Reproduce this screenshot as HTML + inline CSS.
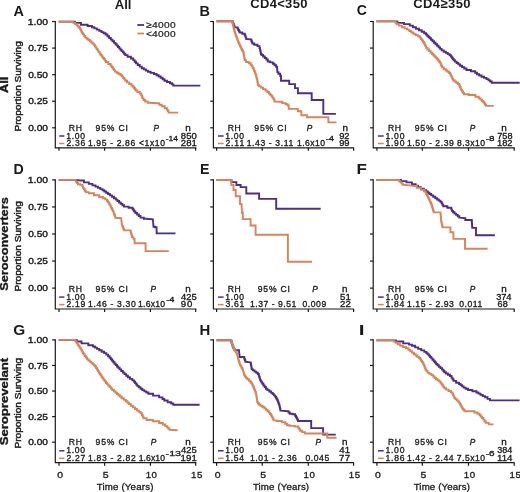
<!DOCTYPE html>
<html><head><meta charset="utf-8"><style>
html,body{margin:0;padding:0;background:#fff;width:520px;height:492px;overflow:hidden}
svg{display:block}
text{font-family:"Liberation Sans", sans-serif}
</style></head><body>
<svg width="520" height="492" viewBox="0 0 520 492" style="filter:blur(0.3px)">
<rect width="520" height="492" fill="#fff"/>
<path d="M55.30,20.90 V147.80 H196.30" fill="none" stroke="#1a1a1a" stroke-width="1.2"/>
<line x1="52.10" y1="21.50" x2="55.30" y2="21.50" stroke="#1a1a1a" stroke-width="1.2"/>
<line x1="52.10" y1="48.08" x2="55.30" y2="48.08" stroke="#1a1a1a" stroke-width="1.2"/>
<line x1="52.10" y1="74.65" x2="55.30" y2="74.65" stroke="#1a1a1a" stroke-width="1.2"/>
<line x1="52.10" y1="101.22" x2="55.30" y2="101.22" stroke="#1a1a1a" stroke-width="1.2"/>
<line x1="52.10" y1="127.80" x2="55.30" y2="127.80" stroke="#1a1a1a" stroke-width="1.2"/>
<line x1="59.00" y1="147.80" x2="59.00" y2="150.80" stroke="#1a1a1a" stroke-width="1.2"/>
<line x1="104.60" y1="147.80" x2="104.60" y2="150.80" stroke="#1a1a1a" stroke-width="1.2"/>
<line x1="150.40" y1="147.80" x2="150.40" y2="150.80" stroke="#1a1a1a" stroke-width="1.2"/>
<line x1="195.70" y1="147.80" x2="195.70" y2="150.80" stroke="#1a1a1a" stroke-width="1.2"/>
<path d="M213.40,20.90 V147.80 H353.90" fill="none" stroke="#1a1a1a" stroke-width="1.2"/>
<line x1="210.20" y1="21.50" x2="213.40" y2="21.50" stroke="#1a1a1a" stroke-width="1.2"/>
<line x1="210.20" y1="48.08" x2="213.40" y2="48.08" stroke="#1a1a1a" stroke-width="1.2"/>
<line x1="210.20" y1="74.65" x2="213.40" y2="74.65" stroke="#1a1a1a" stroke-width="1.2"/>
<line x1="210.20" y1="101.22" x2="213.40" y2="101.22" stroke="#1a1a1a" stroke-width="1.2"/>
<line x1="210.20" y1="127.80" x2="213.40" y2="127.80" stroke="#1a1a1a" stroke-width="1.2"/>
<line x1="216.60" y1="147.80" x2="216.60" y2="150.80" stroke="#1a1a1a" stroke-width="1.2"/>
<line x1="262.20" y1="147.80" x2="262.20" y2="150.80" stroke="#1a1a1a" stroke-width="1.2"/>
<line x1="308.30" y1="147.80" x2="308.30" y2="150.80" stroke="#1a1a1a" stroke-width="1.2"/>
<line x1="353.60" y1="147.80" x2="353.60" y2="150.80" stroke="#1a1a1a" stroke-width="1.2"/>
<path d="M373.20,20.90 V147.80 H514.60" fill="none" stroke="#1a1a1a" stroke-width="1.2"/>
<line x1="370.00" y1="21.50" x2="373.20" y2="21.50" stroke="#1a1a1a" stroke-width="1.2"/>
<line x1="370.00" y1="48.08" x2="373.20" y2="48.08" stroke="#1a1a1a" stroke-width="1.2"/>
<line x1="370.00" y1="74.65" x2="373.20" y2="74.65" stroke="#1a1a1a" stroke-width="1.2"/>
<line x1="370.00" y1="101.22" x2="373.20" y2="101.22" stroke="#1a1a1a" stroke-width="1.2"/>
<line x1="370.00" y1="127.80" x2="373.20" y2="127.80" stroke="#1a1a1a" stroke-width="1.2"/>
<line x1="376.90" y1="147.80" x2="376.90" y2="150.80" stroke="#1a1a1a" stroke-width="1.2"/>
<line x1="422.30" y1="147.80" x2="422.30" y2="150.80" stroke="#1a1a1a" stroke-width="1.2"/>
<line x1="468.50" y1="147.80" x2="468.50" y2="150.80" stroke="#1a1a1a" stroke-width="1.2"/>
<line x1="514.20" y1="147.80" x2="514.20" y2="150.80" stroke="#1a1a1a" stroke-width="1.2"/>
<path d="M55.30,179.30 V309.00 H196.30" fill="none" stroke="#1a1a1a" stroke-width="1.2"/>
<line x1="52.10" y1="179.90" x2="55.30" y2="179.90" stroke="#1a1a1a" stroke-width="1.2"/>
<line x1="52.10" y1="206.95" x2="55.30" y2="206.95" stroke="#1a1a1a" stroke-width="1.2"/>
<line x1="52.10" y1="234.00" x2="55.30" y2="234.00" stroke="#1a1a1a" stroke-width="1.2"/>
<line x1="52.10" y1="261.05" x2="55.30" y2="261.05" stroke="#1a1a1a" stroke-width="1.2"/>
<line x1="52.10" y1="288.10" x2="55.30" y2="288.10" stroke="#1a1a1a" stroke-width="1.2"/>
<line x1="59.00" y1="309.00" x2="59.00" y2="312.00" stroke="#1a1a1a" stroke-width="1.2"/>
<line x1="104.60" y1="309.00" x2="104.60" y2="312.00" stroke="#1a1a1a" stroke-width="1.2"/>
<line x1="150.40" y1="309.00" x2="150.40" y2="312.00" stroke="#1a1a1a" stroke-width="1.2"/>
<line x1="195.70" y1="309.00" x2="195.70" y2="312.00" stroke="#1a1a1a" stroke-width="1.2"/>
<path d="M213.40,179.30 V309.00 H353.90" fill="none" stroke="#1a1a1a" stroke-width="1.2"/>
<line x1="210.20" y1="179.90" x2="213.40" y2="179.90" stroke="#1a1a1a" stroke-width="1.2"/>
<line x1="210.20" y1="206.95" x2="213.40" y2="206.95" stroke="#1a1a1a" stroke-width="1.2"/>
<line x1="210.20" y1="234.00" x2="213.40" y2="234.00" stroke="#1a1a1a" stroke-width="1.2"/>
<line x1="210.20" y1="261.05" x2="213.40" y2="261.05" stroke="#1a1a1a" stroke-width="1.2"/>
<line x1="210.20" y1="288.10" x2="213.40" y2="288.10" stroke="#1a1a1a" stroke-width="1.2"/>
<line x1="216.60" y1="309.00" x2="216.60" y2="312.00" stroke="#1a1a1a" stroke-width="1.2"/>
<line x1="262.20" y1="309.00" x2="262.20" y2="312.00" stroke="#1a1a1a" stroke-width="1.2"/>
<line x1="308.30" y1="309.00" x2="308.30" y2="312.00" stroke="#1a1a1a" stroke-width="1.2"/>
<line x1="353.60" y1="309.00" x2="353.60" y2="312.00" stroke="#1a1a1a" stroke-width="1.2"/>
<path d="M373.20,179.30 V309.00 H514.60" fill="none" stroke="#1a1a1a" stroke-width="1.2"/>
<line x1="370.00" y1="179.90" x2="373.20" y2="179.90" stroke="#1a1a1a" stroke-width="1.2"/>
<line x1="370.00" y1="206.95" x2="373.20" y2="206.95" stroke="#1a1a1a" stroke-width="1.2"/>
<line x1="370.00" y1="234.00" x2="373.20" y2="234.00" stroke="#1a1a1a" stroke-width="1.2"/>
<line x1="370.00" y1="261.05" x2="373.20" y2="261.05" stroke="#1a1a1a" stroke-width="1.2"/>
<line x1="370.00" y1="288.10" x2="373.20" y2="288.10" stroke="#1a1a1a" stroke-width="1.2"/>
<line x1="376.90" y1="309.00" x2="376.90" y2="312.00" stroke="#1a1a1a" stroke-width="1.2"/>
<line x1="422.30" y1="309.00" x2="422.30" y2="312.00" stroke="#1a1a1a" stroke-width="1.2"/>
<line x1="468.50" y1="309.00" x2="468.50" y2="312.00" stroke="#1a1a1a" stroke-width="1.2"/>
<line x1="514.20" y1="309.00" x2="514.20" y2="312.00" stroke="#1a1a1a" stroke-width="1.2"/>
<path d="M55.30,339.30 V462.70 H196.30" fill="none" stroke="#1a1a1a" stroke-width="1.2"/>
<line x1="52.10" y1="339.90" x2="55.30" y2="339.90" stroke="#1a1a1a" stroke-width="1.2"/>
<line x1="52.10" y1="365.47" x2="55.30" y2="365.47" stroke="#1a1a1a" stroke-width="1.2"/>
<line x1="52.10" y1="391.05" x2="55.30" y2="391.05" stroke="#1a1a1a" stroke-width="1.2"/>
<line x1="52.10" y1="416.62" x2="55.30" y2="416.62" stroke="#1a1a1a" stroke-width="1.2"/>
<line x1="52.10" y1="442.20" x2="55.30" y2="442.20" stroke="#1a1a1a" stroke-width="1.2"/>
<line x1="59.00" y1="462.70" x2="59.00" y2="465.70" stroke="#1a1a1a" stroke-width="1.2"/>
<line x1="104.60" y1="462.70" x2="104.60" y2="465.70" stroke="#1a1a1a" stroke-width="1.2"/>
<line x1="150.40" y1="462.70" x2="150.40" y2="465.70" stroke="#1a1a1a" stroke-width="1.2"/>
<line x1="195.70" y1="462.70" x2="195.70" y2="465.70" stroke="#1a1a1a" stroke-width="1.2"/>
<path d="M213.40,339.30 V462.70 H353.90" fill="none" stroke="#1a1a1a" stroke-width="1.2"/>
<line x1="210.20" y1="339.90" x2="213.40" y2="339.90" stroke="#1a1a1a" stroke-width="1.2"/>
<line x1="210.20" y1="365.47" x2="213.40" y2="365.47" stroke="#1a1a1a" stroke-width="1.2"/>
<line x1="210.20" y1="391.05" x2="213.40" y2="391.05" stroke="#1a1a1a" stroke-width="1.2"/>
<line x1="210.20" y1="416.62" x2="213.40" y2="416.62" stroke="#1a1a1a" stroke-width="1.2"/>
<line x1="210.20" y1="442.20" x2="213.40" y2="442.20" stroke="#1a1a1a" stroke-width="1.2"/>
<line x1="216.60" y1="462.70" x2="216.60" y2="465.70" stroke="#1a1a1a" stroke-width="1.2"/>
<line x1="262.20" y1="462.70" x2="262.20" y2="465.70" stroke="#1a1a1a" stroke-width="1.2"/>
<line x1="308.30" y1="462.70" x2="308.30" y2="465.70" stroke="#1a1a1a" stroke-width="1.2"/>
<line x1="353.60" y1="462.70" x2="353.60" y2="465.70" stroke="#1a1a1a" stroke-width="1.2"/>
<path d="M373.20,339.30 V462.70 H514.60" fill="none" stroke="#1a1a1a" stroke-width="1.2"/>
<line x1="370.00" y1="339.90" x2="373.20" y2="339.90" stroke="#1a1a1a" stroke-width="1.2"/>
<line x1="370.00" y1="365.47" x2="373.20" y2="365.47" stroke="#1a1a1a" stroke-width="1.2"/>
<line x1="370.00" y1="391.05" x2="373.20" y2="391.05" stroke="#1a1a1a" stroke-width="1.2"/>
<line x1="370.00" y1="416.62" x2="373.20" y2="416.62" stroke="#1a1a1a" stroke-width="1.2"/>
<line x1="370.00" y1="442.20" x2="373.20" y2="442.20" stroke="#1a1a1a" stroke-width="1.2"/>
<line x1="376.90" y1="462.70" x2="376.90" y2="465.70" stroke="#1a1a1a" stroke-width="1.2"/>
<line x1="422.30" y1="462.70" x2="422.30" y2="465.70" stroke="#1a1a1a" stroke-width="1.2"/>
<line x1="468.50" y1="462.70" x2="468.50" y2="465.70" stroke="#1a1a1a" stroke-width="1.2"/>
<line x1="514.20" y1="462.70" x2="514.20" y2="465.70" stroke="#1a1a1a" stroke-width="1.2"/>
<text x="114.67" y="8.70" font-size="13" font-weight="bold" font-style="normal" textLength="16.86" lengthAdjust="spacingAndGlyphs" fill="#1a1a1a" stroke="#1a1a1a" stroke-width="0" >All</text>
<text transform="translate(250.80,8.30) scale(1.0,1)" x="-0.53" y="0" font-size="13" font-weight="bold" font-style="normal" textLength="57.17" lengthAdjust="spacing" fill="#1a1a1a" stroke="#1a1a1a" stroke-width="0" >CD4&lt;350</text>
<text transform="translate(413.80,8.30) scale(1.0,1)" x="-0.53" y="0" font-size="13" font-weight="bold" font-style="normal" textLength="57.27" lengthAdjust="spacing" fill="#1a1a1a" stroke="#1a1a1a" stroke-width="0" >CD4≥350</text>
<text x="13.44" y="15.60" font-size="14" font-weight="bold" font-style="normal" textLength="10.44" lengthAdjust="spacingAndGlyphs" fill="#1a1a1a" stroke="#1a1a1a" stroke-width="0" >A</text>
<text x="199.43" y="15.60" font-size="14" font-weight="bold" font-style="normal" textLength="10.42" lengthAdjust="spacingAndGlyphs" fill="#1a1a1a" stroke="#1a1a1a" stroke-width="0" >B</text>
<text x="356.72" y="15.40" font-size="14" font-weight="bold" font-style="normal" textLength="10.16" lengthAdjust="spacingAndGlyphs" fill="#1a1a1a" stroke="#1a1a1a" stroke-width="0" >C</text>
<text x="13.45" y="174.00" font-size="14" font-weight="bold" font-style="normal" textLength="10.24" lengthAdjust="spacingAndGlyphs" fill="#1a1a1a" stroke="#1a1a1a" stroke-width="0" >D</text>
<text x="200.05" y="174.40" font-size="14" font-weight="bold" font-style="normal" textLength="9.51" lengthAdjust="spacingAndGlyphs" fill="#1a1a1a" stroke="#1a1a1a" stroke-width="0" >E</text>
<text x="356.57" y="174.40" font-size="14" font-weight="bold" font-style="normal" textLength="10.35" lengthAdjust="spacingAndGlyphs" fill="#1a1a1a" stroke="#1a1a1a" stroke-width="0" >F</text>
<text x="13.17" y="335.30" font-size="14" font-weight="bold" font-style="normal" textLength="11.99" lengthAdjust="spacingAndGlyphs" fill="#1a1a1a" stroke="#1a1a1a" stroke-width="0" >G</text>
<text x="199.60" y="335.40" font-size="14" font-weight="bold" font-style="normal" textLength="10.81" lengthAdjust="spacingAndGlyphs" fill="#1a1a1a" stroke="#1a1a1a" stroke-width="0" >H</text>
<text x="358.81" y="335.40" font-size="14" font-weight="bold" font-style="normal" textLength="5.79" lengthAdjust="spacingAndGlyphs" fill="#1a1a1a" stroke="#1a1a1a" stroke-width="0" >I</text>
<text transform="translate(8.30,92.70) rotate(-90)" x="-0.32" y="0" font-size="10" font-weight="bold" textLength="16.43" lengthAdjust="spacingAndGlyphs" fill="#1a1a1a" stroke="#1a1a1a" stroke-width="0.35">All</text>
<text transform="translate(8.30,290.40) rotate(-90)" x="-0.37" y="0" font-size="10.3" font-weight="bold" textLength="93.49" lengthAdjust="spacingAndGlyphs" fill="#1a1a1a" stroke="#1a1a1a" stroke-width="0.35">Seroconverters</text>
<text transform="translate(8.30,445.00) rotate(-90)" x="-0.38" y="0" font-size="10.3" font-weight="bold" textLength="87.64" lengthAdjust="spacingAndGlyphs" fill="#1a1a1a" stroke="#1a1a1a" stroke-width="0.35">Seroprevelant</text>
<text transform="translate(20.80,130.60) rotate(-90)" x="-0.82" y="0" font-size="8.4" font-weight="normal" textLength="90.17" lengthAdjust="spacingAndGlyphs" fill="#1a1a1a" stroke="#1a1a1a" stroke-width="0.4">Proportion Surviving</text>
<text transform="translate(20.80,290.60) rotate(-90)" x="-0.82" y="0" font-size="8.4" font-weight="normal" textLength="90.37" lengthAdjust="spacingAndGlyphs" fill="#1a1a1a" stroke="#1a1a1a" stroke-width="0.4">Proportion Surviving</text>
<text transform="translate(20.80,447.70) rotate(-90)" x="-0.83" y="0" font-size="8.4" font-weight="normal" textLength="90.68" lengthAdjust="spacingAndGlyphs" fill="#1a1a1a" stroke="#1a1a1a" stroke-width="0.4">Proportion Surviving</text>
<text x="27.81" y="24.70" font-size="9.6" font-weight="normal" font-style="normal" textLength="20.20" lengthAdjust="spacingAndGlyphs" fill="#1a1a1a" stroke="#1a1a1a" stroke-width="0.4" >1.00</text>
<text x="28.20" y="51.28" font-size="9.6" font-weight="normal" font-style="normal" textLength="19.83" lengthAdjust="spacingAndGlyphs" fill="#1a1a1a" stroke="#1a1a1a" stroke-width="0.4" >0.75</text>
<text x="28.20" y="77.85" font-size="9.6" font-weight="normal" font-style="normal" textLength="19.79" lengthAdjust="spacingAndGlyphs" fill="#1a1a1a" stroke="#1a1a1a" stroke-width="0.4" >0.50</text>
<text x="28.20" y="104.42" font-size="9.6" font-weight="normal" font-style="normal" textLength="19.83" lengthAdjust="spacingAndGlyphs" fill="#1a1a1a" stroke="#1a1a1a" stroke-width="0.4" >0.25</text>
<text x="28.20" y="131.00" font-size="9.6" font-weight="normal" font-style="normal" textLength="19.79" lengthAdjust="spacingAndGlyphs" fill="#1a1a1a" stroke="#1a1a1a" stroke-width="0.4" >0.00</text>
<text x="27.81" y="183.10" font-size="9.6" font-weight="normal" font-style="normal" textLength="20.20" lengthAdjust="spacingAndGlyphs" fill="#1a1a1a" stroke="#1a1a1a" stroke-width="0.4" >1.00</text>
<text x="28.20" y="210.15" font-size="9.6" font-weight="normal" font-style="normal" textLength="19.83" lengthAdjust="spacingAndGlyphs" fill="#1a1a1a" stroke="#1a1a1a" stroke-width="0.4" >0.75</text>
<text x="28.20" y="237.20" font-size="9.6" font-weight="normal" font-style="normal" textLength="19.79" lengthAdjust="spacingAndGlyphs" fill="#1a1a1a" stroke="#1a1a1a" stroke-width="0.4" >0.50</text>
<text x="28.20" y="264.25" font-size="9.6" font-weight="normal" font-style="normal" textLength="19.83" lengthAdjust="spacingAndGlyphs" fill="#1a1a1a" stroke="#1a1a1a" stroke-width="0.4" >0.25</text>
<text x="28.20" y="291.30" font-size="9.6" font-weight="normal" font-style="normal" textLength="19.79" lengthAdjust="spacingAndGlyphs" fill="#1a1a1a" stroke="#1a1a1a" stroke-width="0.4" >0.00</text>
<text x="27.81" y="343.10" font-size="9.6" font-weight="normal" font-style="normal" textLength="20.20" lengthAdjust="spacingAndGlyphs" fill="#1a1a1a" stroke="#1a1a1a" stroke-width="0.4" >1.00</text>
<text x="28.20" y="368.67" font-size="9.6" font-weight="normal" font-style="normal" textLength="19.83" lengthAdjust="spacingAndGlyphs" fill="#1a1a1a" stroke="#1a1a1a" stroke-width="0.4" >0.75</text>
<text x="28.20" y="394.25" font-size="9.6" font-weight="normal" font-style="normal" textLength="19.79" lengthAdjust="spacingAndGlyphs" fill="#1a1a1a" stroke="#1a1a1a" stroke-width="0.4" >0.50</text>
<text x="28.20" y="419.82" font-size="9.6" font-weight="normal" font-style="normal" textLength="19.83" lengthAdjust="spacingAndGlyphs" fill="#1a1a1a" stroke="#1a1a1a" stroke-width="0.4" >0.25</text>
<text x="28.20" y="445.40" font-size="9.6" font-weight="normal" font-style="normal" textLength="19.79" lengthAdjust="spacingAndGlyphs" fill="#1a1a1a" stroke="#1a1a1a" stroke-width="0.4" >0.00</text>
<text x="57.19" y="477.70" font-size="8.8" font-weight="normal" font-style="normal" textLength="5.82" lengthAdjust="spacingAndGlyphs" fill="#1a1a1a" stroke="#1a1a1a" stroke-width="0.3" >0</text>
<text x="102.78" y="477.70" font-size="8.8" font-weight="normal" font-style="normal" textLength="5.87" lengthAdjust="spacingAndGlyphs" fill="#1a1a1a" stroke="#1a1a1a" stroke-width="0.3" >5</text>
<text transform="translate(146.40,477.70) scale(1.1,1)" x="-0.67" y="0" font-size="8.8" font-weight="normal" font-style="normal" textLength="10.29" lengthAdjust="spacing" fill="#1a1a1a" stroke="#1a1a1a" stroke-width="0.3" >10</text>
<text transform="translate(191.70,477.70) scale(1.1,1)" x="-0.67" y="0" font-size="8.8" font-weight="normal" font-style="normal" textLength="10.31" lengthAdjust="spacing" fill="#1a1a1a" stroke="#1a1a1a" stroke-width="0.3" >15</text>
<text x="214.79" y="477.70" font-size="8.8" font-weight="normal" font-style="normal" textLength="5.82" lengthAdjust="spacingAndGlyphs" fill="#1a1a1a" stroke="#1a1a1a" stroke-width="0.3" >0</text>
<text x="260.38" y="477.70" font-size="8.8" font-weight="normal" font-style="normal" textLength="5.87" lengthAdjust="spacingAndGlyphs" fill="#1a1a1a" stroke="#1a1a1a" stroke-width="0.3" >5</text>
<text transform="translate(304.30,477.70) scale(1.1,1)" x="-0.67" y="0" font-size="8.8" font-weight="normal" font-style="normal" textLength="10.29" lengthAdjust="spacing" fill="#1a1a1a" stroke="#1a1a1a" stroke-width="0.3" >10</text>
<text transform="translate(349.60,477.70) scale(1.1,1)" x="-0.67" y="0" font-size="8.8" font-weight="normal" font-style="normal" textLength="10.31" lengthAdjust="spacing" fill="#1a1a1a" stroke="#1a1a1a" stroke-width="0.3" >15</text>
<text x="375.09" y="477.70" font-size="8.8" font-weight="normal" font-style="normal" textLength="5.82" lengthAdjust="spacingAndGlyphs" fill="#1a1a1a" stroke="#1a1a1a" stroke-width="0.3" >0</text>
<text x="420.48" y="477.70" font-size="8.8" font-weight="normal" font-style="normal" textLength="5.87" lengthAdjust="spacingAndGlyphs" fill="#1a1a1a" stroke="#1a1a1a" stroke-width="0.3" >5</text>
<text transform="translate(464.50,477.70) scale(1.1,1)" x="-0.67" y="0" font-size="8.8" font-weight="normal" font-style="normal" textLength="10.29" lengthAdjust="spacing" fill="#1a1a1a" stroke="#1a1a1a" stroke-width="0.3" >10</text>
<text transform="translate(510.20,477.70) scale(1.1,1)" x="-0.67" y="0" font-size="8.8" font-weight="normal" font-style="normal" textLength="10.31" lengthAdjust="spacing" fill="#1a1a1a" stroke="#1a1a1a" stroke-width="0.3" >15</text>
<text transform="translate(96.90,490.30) scale(1.1,1)" x="-0.20" y="0" font-size="8.8" font-weight="normal" font-style="normal" textLength="51.56" lengthAdjust="spacing" fill="#1a1a1a" stroke="#1a1a1a" stroke-width="0.3" >Time (Years)</text>
<text transform="translate(253.10,490.30) scale(1.1,1)" x="-0.20" y="0" font-size="8.8" font-weight="normal" font-style="normal" textLength="51.11" lengthAdjust="spacing" fill="#1a1a1a" stroke="#1a1a1a" stroke-width="0.3" >Time (Years)</text>
<text transform="translate(413.90,490.30) scale(1.1,1)" x="-0.20" y="0" font-size="8.8" font-weight="normal" font-style="normal" textLength="51.11" lengthAdjust="spacing" fill="#1a1a1a" stroke="#1a1a1a" stroke-width="0.3" >Time (Years)</text>
<polyline points="137.30,25.00 144.00,25.00" fill="none" stroke="#4e2e82" stroke-width="1.8" stroke-linejoin="miter" stroke-linecap="butt"/>
<polyline points="137.30,33.50 144.00,33.50" fill="none" stroke="#d6845a" stroke-width="1.8" stroke-linejoin="miter" stroke-linecap="butt"/>
<text transform="translate(146.40,27.70) scale(1.1,1)" x="-0.30" y="0" font-size="9.3" font-weight="normal" font-style="normal" textLength="26.93" lengthAdjust="spacing" fill="#1a1a1a" stroke="#1a1a1a" stroke-width="0.2" >≥4000</text>
<text transform="translate(146.40,36.60) scale(1.1,1)" x="-0.46" y="0" font-size="9.3" font-weight="normal" font-style="normal" textLength="27.09" lengthAdjust="spacing" fill="#1a1a1a" stroke="#1a1a1a" stroke-width="0.2" >&lt;4000</text>
<text transform="translate(69.50,130.50) scale(1.0,1)" x="-0.71" y="0" font-size="8.6" font-weight="normal" font-style="normal" textLength="13.11" lengthAdjust="spacing" fill="#1a1a1a" stroke="#1a1a1a" stroke-width="0.32" >RH</text>
<text transform="translate(96.00,130.50) scale(1.0,1)" x="-0.40" y="0" font-size="8.6" font-weight="normal" font-style="normal" textLength="32.30" lengthAdjust="spacing" fill="#1a1a1a" stroke="#1a1a1a" stroke-width="0.32" >95% CI</text>
<text x="153.50" y="130.50" font-size="8.6" font-weight="normal" font-style="italic" textLength="5.51" lengthAdjust="spacingAndGlyphs" fill="#1a1a1a" stroke="#1a1a1a" stroke-width="0.32" >P</text>
<text x="185.29" y="130.50" font-size="8.6" font-weight="normal" font-style="normal" textLength="5.50" lengthAdjust="spacingAndGlyphs" fill="#1a1a1a" stroke="#1a1a1a" stroke-width="0.32" >n</text>
<polyline points="59.20,136.00 64.40,136.00" fill="none" stroke="#4e2e82" stroke-width="1.5" stroke-linejoin="miter" stroke-linecap="butt"/>
<polyline points="59.20,143.50 64.40,143.50" fill="none" stroke="#d6845a" stroke-width="1.5" stroke-linejoin="miter" stroke-linecap="butt"/>
<text transform="translate(66.80,138.60) scale(1.0,1)" x="-0.66" y="0" font-size="8.6" font-weight="normal" font-style="normal" textLength="18.99" lengthAdjust="spacing" fill="#1a1a1a" stroke="#1a1a1a" stroke-width="0.32" >1.00</text>
<text transform="translate(66.80,146.10) scale(1.0,1)" x="-0.43" y="0" font-size="8.6" font-weight="normal" font-style="normal" textLength="18.81" lengthAdjust="spacing" fill="#1a1a1a" stroke="#1a1a1a" stroke-width="0.32" >2.36</text>
<text transform="translate(88.60,146.10) scale(1.0,1)" x="-0.66" y="0" font-size="8.6" font-weight="normal" font-style="normal" textLength="47.33" lengthAdjust="spacing" fill="#1a1a1a" stroke="#1a1a1a" stroke-width="0.32" >1.95 - 2.86</text>
<text transform="translate(139.40,146.10) scale(1.0,1)" x="-0.42" y="0" font-size="8.6" font-weight="normal" font-style="normal" textLength="26.06" lengthAdjust="spacing" fill="#1a1a1a" stroke="#1a1a1a" stroke-width="0.32" >&lt;1x10</text>
<text x="165.72" y="141.30" font-size="7.3" font-weight="normal" font-style="normal" textLength="12.22" lengthAdjust="spacingAndGlyphs" fill="#1a1a1a" stroke="#1a1a1a" stroke-width="0.3" >-14</text>
<text x="180.89" y="138.60" font-size="8.6" font-weight="normal" font-style="normal" textLength="15.89" lengthAdjust="spacingAndGlyphs" fill="#1a1a1a" stroke="#1a1a1a" stroke-width="0.32" >850</text>
<text x="180.82" y="146.10" font-size="8.6" font-weight="normal" font-style="normal" textLength="16.05" lengthAdjust="spacingAndGlyphs" fill="#1a1a1a" stroke="#1a1a1a" stroke-width="0.32" >281</text>
<text transform="translate(228.50,130.50) scale(1.0,1)" x="-0.71" y="0" font-size="8.6" font-weight="normal" font-style="normal" textLength="12.81" lengthAdjust="spacing" fill="#1a1a1a" stroke="#1a1a1a" stroke-width="0.32" >RH</text>
<text transform="translate(254.70,130.50) scale(1.0,1)" x="-0.40" y="0" font-size="8.6" font-weight="normal" font-style="normal" textLength="32.30" lengthAdjust="spacing" fill="#1a1a1a" stroke="#1a1a1a" stroke-width="0.32" >95% CI</text>
<text x="306.75" y="130.50" font-size="8.6" font-weight="normal" font-style="italic" textLength="5.51" lengthAdjust="spacingAndGlyphs" fill="#1a1a1a" stroke="#1a1a1a" stroke-width="0.32" >P</text>
<text x="342.49" y="130.50" font-size="8.6" font-weight="normal" font-style="normal" textLength="5.50" lengthAdjust="spacingAndGlyphs" fill="#1a1a1a" stroke="#1a1a1a" stroke-width="0.32" >n</text>
<polyline points="218.00,136.00 223.60,136.00" fill="none" stroke="#4e2e82" stroke-width="1.5" stroke-linejoin="miter" stroke-linecap="butt"/>
<polyline points="218.00,143.50 223.60,143.50" fill="none" stroke="#d6845a" stroke-width="1.5" stroke-linejoin="miter" stroke-linecap="butt"/>
<text transform="translate(225.80,138.60) scale(1.0,1)" x="-0.66" y="0" font-size="8.6" font-weight="normal" font-style="normal" textLength="18.99" lengthAdjust="spacing" fill="#1a1a1a" stroke="#1a1a1a" stroke-width="0.32" >1.00</text>
<text transform="translate(225.80,146.10) scale(1.0,1)" x="-0.43" y="0" font-size="8.6" font-weight="normal" font-style="normal" textLength="18.85" lengthAdjust="spacing" fill="#1a1a1a" stroke="#1a1a1a" stroke-width="0.32" >2.11</text>
<text transform="translate(247.30,146.10) scale(1.0,1)" x="-0.66" y="0" font-size="8.6" font-weight="normal" font-style="normal" textLength="46.67" lengthAdjust="spacing" fill="#1a1a1a" stroke="#1a1a1a" stroke-width="0.32" >1.43 - 3.11</text>
<text transform="translate(297.70,146.10) scale(1.0,1)" x="-0.66" y="0" font-size="8.6" font-weight="normal" font-style="normal" textLength="27.89" lengthAdjust="spacing" fill="#1a1a1a" stroke="#1a1a1a" stroke-width="0.32" >1.6x10</text>
<text x="325.68" y="141.30" font-size="7.3" font-weight="normal" font-style="normal" textLength="8.40" lengthAdjust="spacingAndGlyphs" fill="#1a1a1a" stroke="#1a1a1a" stroke-width="0.3" >-4</text>
<text x="339.16" y="138.60" font-size="8.6" font-weight="normal" font-style="normal" textLength="10.41" lengthAdjust="spacingAndGlyphs" fill="#1a1a1a" stroke="#1a1a1a" stroke-width="0.32" >92</text>
<text x="339.16" y="146.10" font-size="8.6" font-weight="normal" font-style="normal" textLength="10.38" lengthAdjust="spacingAndGlyphs" fill="#1a1a1a" stroke="#1a1a1a" stroke-width="0.32" >99</text>
<text transform="translate(388.80,130.50) scale(1.0,1)" x="-0.71" y="0" font-size="8.6" font-weight="normal" font-style="normal" textLength="12.91" lengthAdjust="spacing" fill="#1a1a1a" stroke="#1a1a1a" stroke-width="0.32" >RH</text>
<text transform="translate(415.10,130.50) scale(1.0,1)" x="-0.40" y="0" font-size="8.6" font-weight="normal" font-style="normal" textLength="32.30" lengthAdjust="spacing" fill="#1a1a1a" stroke="#1a1a1a" stroke-width="0.32" >95% CI</text>
<text x="469.80" y="130.50" font-size="8.6" font-weight="normal" font-style="italic" textLength="5.51" lengthAdjust="spacingAndGlyphs" fill="#1a1a1a" stroke="#1a1a1a" stroke-width="0.32" >P</text>
<text x="501.19" y="130.50" font-size="8.6" font-weight="normal" font-style="normal" textLength="5.50" lengthAdjust="spacingAndGlyphs" fill="#1a1a1a" stroke="#1a1a1a" stroke-width="0.32" >n</text>
<polyline points="377.90,136.00 383.70,136.00" fill="none" stroke="#4e2e82" stroke-width="1.5" stroke-linejoin="miter" stroke-linecap="butt"/>
<polyline points="377.90,143.50 383.70,143.50" fill="none" stroke="#d6845a" stroke-width="1.5" stroke-linejoin="miter" stroke-linecap="butt"/>
<text transform="translate(386.10,138.60) scale(1.0,1)" x="-0.66" y="0" font-size="8.6" font-weight="normal" font-style="normal" textLength="18.99" lengthAdjust="spacing" fill="#1a1a1a" stroke="#1a1a1a" stroke-width="0.32" >1.00</text>
<text transform="translate(386.10,146.10) scale(1.0,1)" x="-0.66" y="0" font-size="8.6" font-weight="normal" font-style="normal" textLength="18.99" lengthAdjust="spacing" fill="#1a1a1a" stroke="#1a1a1a" stroke-width="0.32" >1.90</text>
<text transform="translate(407.70,146.10) scale(1.0,1)" x="-0.66" y="0" font-size="8.6" font-weight="normal" font-style="normal" textLength="46.76" lengthAdjust="spacing" fill="#1a1a1a" stroke="#1a1a1a" stroke-width="0.32" >1.50 - 2.39</text>
<text transform="translate(457.30,146.10) scale(1.0,1)" x="-0.37" y="0" font-size="8.6" font-weight="normal" font-style="normal" textLength="28.11" lengthAdjust="spacing" fill="#1a1a1a" stroke="#1a1a1a" stroke-width="0.32" >8.3x10</text>
<text x="485.66" y="141.30" font-size="7.3" font-weight="normal" font-style="normal" textLength="8.88" lengthAdjust="spacingAndGlyphs" fill="#1a1a1a" stroke="#1a1a1a" stroke-width="0.3" >-8</text>
<text x="497.23" y="138.60" font-size="8.6" font-weight="normal" font-style="normal" textLength="15.27" lengthAdjust="spacingAndGlyphs" fill="#1a1a1a" stroke="#1a1a1a" stroke-width="0.32" >758</text>
<text x="496.99" y="146.10" font-size="8.6" font-weight="normal" font-style="normal" textLength="15.58" lengthAdjust="spacingAndGlyphs" fill="#1a1a1a" stroke="#1a1a1a" stroke-width="0.32" >182</text>
<text transform="translate(69.50,291.60) scale(1.0,1)" x="-0.71" y="0" font-size="8.6" font-weight="normal" font-style="normal" textLength="13.11" lengthAdjust="spacing" fill="#1a1a1a" stroke="#1a1a1a" stroke-width="0.32" >RH</text>
<text transform="translate(96.00,291.60) scale(1.0,1)" x="-0.40" y="0" font-size="8.6" font-weight="normal" font-style="normal" textLength="32.30" lengthAdjust="spacing" fill="#1a1a1a" stroke="#1a1a1a" stroke-width="0.32" >95% CI</text>
<text x="150.55" y="291.60" font-size="8.6" font-weight="normal" font-style="italic" textLength="5.51" lengthAdjust="spacingAndGlyphs" fill="#1a1a1a" stroke="#1a1a1a" stroke-width="0.32" >P</text>
<text x="185.29" y="291.60" font-size="8.6" font-weight="normal" font-style="normal" textLength="5.50" lengthAdjust="spacingAndGlyphs" fill="#1a1a1a" stroke="#1a1a1a" stroke-width="0.32" >n</text>
<polyline points="59.20,297.10 64.40,297.10" fill="none" stroke="#4e2e82" stroke-width="1.5" stroke-linejoin="miter" stroke-linecap="butt"/>
<polyline points="59.20,304.60 64.40,304.60" fill="none" stroke="#d6845a" stroke-width="1.5" stroke-linejoin="miter" stroke-linecap="butt"/>
<text transform="translate(66.80,299.70) scale(1.0,1)" x="-0.66" y="0" font-size="8.6" font-weight="normal" font-style="normal" textLength="18.99" lengthAdjust="spacing" fill="#1a1a1a" stroke="#1a1a1a" stroke-width="0.32" >1.00</text>
<text transform="translate(66.80,307.20) scale(1.0,1)" x="-0.43" y="0" font-size="8.6" font-weight="normal" font-style="normal" textLength="18.84" lengthAdjust="spacing" fill="#1a1a1a" stroke="#1a1a1a" stroke-width="0.32" >2.19</text>
<text transform="translate(88.60,307.20) scale(1.0,1)" x="-0.66" y="0" font-size="8.6" font-weight="normal" font-style="normal" textLength="47.79" lengthAdjust="spacing" fill="#1a1a1a" stroke="#1a1a1a" stroke-width="0.32" >1.46 - 3.30</text>
<text transform="translate(138.70,307.20) scale(1.0,1)" x="-0.66" y="0" font-size="8.6" font-weight="normal" font-style="normal" textLength="26.99" lengthAdjust="spacing" fill="#1a1a1a" stroke="#1a1a1a" stroke-width="0.32" >1.6x10</text>
<text x="166.19" y="302.40" font-size="7.3" font-weight="normal" font-style="normal" textLength="8.18" lengthAdjust="spacingAndGlyphs" fill="#1a1a1a" stroke="#1a1a1a" stroke-width="0.3" >-4</text>
<text x="181.08" y="299.70" font-size="8.6" font-weight="normal" font-style="normal" textLength="15.71" lengthAdjust="spacingAndGlyphs" fill="#1a1a1a" stroke="#1a1a1a" stroke-width="0.32" >425</text>
<text transform="translate(181.30,307.20) scale(1.12,1)" x="-0.40" y="0" font-size="8.6" font-weight="normal" font-style="normal" textLength="10.38" lengthAdjust="spacing" fill="#1a1a1a" stroke="#1a1a1a" stroke-width="0.32" >90</text>
<text transform="translate(228.50,291.60) scale(1.0,1)" x="-0.71" y="0" font-size="8.6" font-weight="normal" font-style="normal" textLength="12.81" lengthAdjust="spacing" fill="#1a1a1a" stroke="#1a1a1a" stroke-width="0.32" >RH</text>
<text transform="translate(258.10,291.60) scale(1.0,1)" x="-0.40" y="0" font-size="8.6" font-weight="normal" font-style="normal" textLength="32.30" lengthAdjust="spacing" fill="#1a1a1a" stroke="#1a1a1a" stroke-width="0.32" >95% CI</text>
<text x="312.20" y="291.60" font-size="8.6" font-weight="normal" font-style="italic" textLength="5.51" lengthAdjust="spacingAndGlyphs" fill="#1a1a1a" stroke="#1a1a1a" stroke-width="0.32" >P</text>
<text x="342.04" y="291.60" font-size="8.6" font-weight="normal" font-style="normal" textLength="5.50" lengthAdjust="spacingAndGlyphs" fill="#1a1a1a" stroke="#1a1a1a" stroke-width="0.32" >n</text>
<polyline points="218.00,297.10 223.60,297.10" fill="none" stroke="#4e2e82" stroke-width="1.5" stroke-linejoin="miter" stroke-linecap="butt"/>
<polyline points="218.00,304.60 223.60,304.60" fill="none" stroke="#d6845a" stroke-width="1.5" stroke-linejoin="miter" stroke-linecap="butt"/>
<text transform="translate(225.80,299.70) scale(1.0,1)" x="-0.66" y="0" font-size="8.6" font-weight="normal" font-style="normal" textLength="18.99" lengthAdjust="spacing" fill="#1a1a1a" stroke="#1a1a1a" stroke-width="0.32" >1.00</text>
<text transform="translate(225.80,307.20) scale(1.0,1)" x="-0.33" y="0" font-size="8.6" font-weight="normal" font-style="normal" textLength="18.75" lengthAdjust="spacing" fill="#1a1a1a" stroke="#1a1a1a" stroke-width="0.32" >3.61</text>
<text transform="translate(250.70,307.20) scale(1.0,1)" x="-0.66" y="0" font-size="8.6" font-weight="normal" font-style="normal" textLength="46.18" lengthAdjust="spacing" fill="#1a1a1a" stroke="#1a1a1a" stroke-width="0.32" >1.37 - 9.51</text>
<text transform="translate(302.80,307.20) scale(1.0,1)" x="-0.34" y="0" font-size="8.6" font-weight="normal" font-style="normal" textLength="23.74" lengthAdjust="spacing" fill="#1a1a1a" stroke="#1a1a1a" stroke-width="0.32" >0.009</text>
<text transform="translate(340.40,299.70) scale(1.12,1)" x="-0.34" y="0" font-size="8.6" font-weight="normal" font-style="normal" textLength="9.69" lengthAdjust="spacing" fill="#1a1a1a" stroke="#1a1a1a" stroke-width="0.32" >51</text>
<text transform="translate(340.40,307.20) scale(1.12,1)" x="-0.43" y="0" font-size="8.6" font-weight="normal" font-style="normal" textLength="9.79" lengthAdjust="spacing" fill="#1a1a1a" stroke="#1a1a1a" stroke-width="0.32" >22</text>
<text transform="translate(388.80,291.60) scale(1.0,1)" x="-0.71" y="0" font-size="8.6" font-weight="normal" font-style="normal" textLength="12.91" lengthAdjust="spacing" fill="#1a1a1a" stroke="#1a1a1a" stroke-width="0.32" >RH</text>
<text transform="translate(415.10,291.60) scale(1.0,1)" x="-0.40" y="0" font-size="8.6" font-weight="normal" font-style="normal" textLength="32.30" lengthAdjust="spacing" fill="#1a1a1a" stroke="#1a1a1a" stroke-width="0.32" >95% CI</text>
<text x="469.80" y="291.60" font-size="8.6" font-weight="normal" font-style="italic" textLength="5.51" lengthAdjust="spacingAndGlyphs" fill="#1a1a1a" stroke="#1a1a1a" stroke-width="0.32" >P</text>
<text x="501.19" y="291.60" font-size="8.6" font-weight="normal" font-style="normal" textLength="5.50" lengthAdjust="spacingAndGlyphs" fill="#1a1a1a" stroke="#1a1a1a" stroke-width="0.32" >n</text>
<polyline points="377.90,297.10 383.70,297.10" fill="none" stroke="#4e2e82" stroke-width="1.5" stroke-linejoin="miter" stroke-linecap="butt"/>
<polyline points="377.90,304.60 383.70,304.60" fill="none" stroke="#d6845a" stroke-width="1.5" stroke-linejoin="miter" stroke-linecap="butt"/>
<text transform="translate(386.10,299.70) scale(1.0,1)" x="-0.66" y="0" font-size="8.6" font-weight="normal" font-style="normal" textLength="18.99" lengthAdjust="spacing" fill="#1a1a1a" stroke="#1a1a1a" stroke-width="0.32" >1.00</text>
<text transform="translate(386.10,307.20) scale(1.0,1)" x="-0.66" y="0" font-size="8.6" font-weight="normal" font-style="normal" textLength="18.91" lengthAdjust="spacing" fill="#1a1a1a" stroke="#1a1a1a" stroke-width="0.32" >1.84</text>
<text transform="translate(407.70,307.20) scale(1.0,1)" x="-0.66" y="0" font-size="8.6" font-weight="normal" font-style="normal" textLength="46.83" lengthAdjust="spacing" fill="#1a1a1a" stroke="#1a1a1a" stroke-width="0.32" >1.15 - 2.93</text>
<text transform="translate(459.60,307.20) scale(1.0,1)" x="-0.34" y="0" font-size="8.6" font-weight="normal" font-style="normal" textLength="23.06" lengthAdjust="spacing" fill="#1a1a1a" stroke="#1a1a1a" stroke-width="0.32" >0.011</text>
<text x="496.15" y="299.70" font-size="8.6" font-weight="normal" font-style="normal" textLength="15.32" lengthAdjust="spacingAndGlyphs" fill="#1a1a1a" stroke="#1a1a1a" stroke-width="0.32" >374</text>
<text x="497.64" y="307.20" font-size="8.6" font-weight="normal" font-style="normal" textLength="10.05" lengthAdjust="spacingAndGlyphs" fill="#1a1a1a" stroke="#1a1a1a" stroke-width="0.32" >68</text>
<text transform="translate(69.50,445.30) scale(1.0,1)" x="-0.71" y="0" font-size="8.6" font-weight="normal" font-style="normal" textLength="13.11" lengthAdjust="spacing" fill="#1a1a1a" stroke="#1a1a1a" stroke-width="0.32" >RH</text>
<text transform="translate(96.00,445.30) scale(1.0,1)" x="-0.40" y="0" font-size="8.6" font-weight="normal" font-style="normal" textLength="32.30" lengthAdjust="spacing" fill="#1a1a1a" stroke="#1a1a1a" stroke-width="0.32" >95% CI</text>
<text x="150.80" y="445.30" font-size="8.6" font-weight="normal" font-style="italic" textLength="5.51" lengthAdjust="spacingAndGlyphs" fill="#1a1a1a" stroke="#1a1a1a" stroke-width="0.32" >P</text>
<text x="185.29" y="445.30" font-size="8.6" font-weight="normal" font-style="normal" textLength="5.50" lengthAdjust="spacingAndGlyphs" fill="#1a1a1a" stroke="#1a1a1a" stroke-width="0.32" >n</text>
<polyline points="59.20,450.80 64.40,450.80" fill="none" stroke="#4e2e82" stroke-width="1.5" stroke-linejoin="miter" stroke-linecap="butt"/>
<polyline points="59.20,458.30 64.40,458.30" fill="none" stroke="#d6845a" stroke-width="1.5" stroke-linejoin="miter" stroke-linecap="butt"/>
<text transform="translate(66.80,453.40) scale(1.0,1)" x="-0.66" y="0" font-size="8.6" font-weight="normal" font-style="normal" textLength="18.99" lengthAdjust="spacing" fill="#1a1a1a" stroke="#1a1a1a" stroke-width="0.32" >1.00</text>
<text transform="translate(66.80,460.90) scale(1.0,1)" x="-0.43" y="0" font-size="8.6" font-weight="normal" font-style="normal" textLength="18.87" lengthAdjust="spacing" fill="#1a1a1a" stroke="#1a1a1a" stroke-width="0.32" >2.27</text>
<text transform="translate(88.60,460.90) scale(1.0,1)" x="-0.66" y="0" font-size="8.6" font-weight="normal" font-style="normal" textLength="47.89" lengthAdjust="spacing" fill="#1a1a1a" stroke="#1a1a1a" stroke-width="0.32" >1.83 - 2.82</text>
<text transform="translate(139.40,460.90) scale(1.0,1)" x="-0.66" y="0" font-size="8.6" font-weight="normal" font-style="normal" textLength="26.29" lengthAdjust="spacing" fill="#1a1a1a" stroke="#1a1a1a" stroke-width="0.32" >1.6x10</text>
<text x="165.63" y="456.10" font-size="7.3" font-weight="normal" font-style="normal" textLength="15.44" lengthAdjust="spacingAndGlyphs" fill="#1a1a1a" stroke="#1a1a1a" stroke-width="0.3" >-13</text>
<text x="181.08" y="453.40" font-size="8.6" font-weight="normal" font-style="normal" textLength="15.71" lengthAdjust="spacingAndGlyphs" fill="#1a1a1a" stroke="#1a1a1a" stroke-width="0.32" >425</text>
<text transform="translate(181.30,460.90) scale(1.12,1)" x="-0.66" y="0" font-size="8.6" font-weight="normal" font-style="normal" textLength="14.56" lengthAdjust="spacing" fill="#1a1a1a" stroke="#1a1a1a" stroke-width="0.32" >191</text>
<text transform="translate(228.50,445.30) scale(1.0,1)" x="-0.71" y="0" font-size="8.6" font-weight="normal" font-style="normal" textLength="12.81" lengthAdjust="spacing" fill="#1a1a1a" stroke="#1a1a1a" stroke-width="0.32" >RH</text>
<text transform="translate(258.10,445.30) scale(1.0,1)" x="-0.40" y="0" font-size="8.6" font-weight="normal" font-style="normal" textLength="32.30" lengthAdjust="spacing" fill="#1a1a1a" stroke="#1a1a1a" stroke-width="0.32" >95% CI</text>
<text x="315.45" y="445.30" font-size="8.6" font-weight="normal" font-style="italic" textLength="5.51" lengthAdjust="spacingAndGlyphs" fill="#1a1a1a" stroke="#1a1a1a" stroke-width="0.32" >P</text>
<text x="342.04" y="445.30" font-size="8.6" font-weight="normal" font-style="normal" textLength="5.50" lengthAdjust="spacingAndGlyphs" fill="#1a1a1a" stroke="#1a1a1a" stroke-width="0.32" >n</text>
<polyline points="218.00,450.80 223.60,450.80" fill="none" stroke="#4e2e82" stroke-width="1.5" stroke-linejoin="miter" stroke-linecap="butt"/>
<polyline points="218.00,458.30 223.60,458.30" fill="none" stroke="#d6845a" stroke-width="1.5" stroke-linejoin="miter" stroke-linecap="butt"/>
<text transform="translate(225.80,453.40) scale(1.0,1)" x="-0.66" y="0" font-size="8.6" font-weight="normal" font-style="normal" textLength="18.99" lengthAdjust="spacing" fill="#1a1a1a" stroke="#1a1a1a" stroke-width="0.32" >1.00</text>
<text transform="translate(225.80,460.90) scale(1.0,1)" x="-0.66" y="0" font-size="8.6" font-weight="normal" font-style="normal" textLength="18.91" lengthAdjust="spacing" fill="#1a1a1a" stroke="#1a1a1a" stroke-width="0.32" >1.54</text>
<text transform="translate(250.70,460.90) scale(1.0,1)" x="-0.66" y="0" font-size="8.6" font-weight="normal" font-style="normal" textLength="46.73" lengthAdjust="spacing" fill="#1a1a1a" stroke="#1a1a1a" stroke-width="0.32" >1.01 - 2.36</text>
<text transform="translate(305.80,460.90) scale(1.0,1)" x="-0.34" y="0" font-size="8.6" font-weight="normal" font-style="normal" textLength="23.70" lengthAdjust="spacing" fill="#1a1a1a" stroke="#1a1a1a" stroke-width="0.32" >0.045</text>
<text x="339.38" y="453.40" font-size="8.6" font-weight="normal" font-style="normal" textLength="10.69" lengthAdjust="spacingAndGlyphs" fill="#1a1a1a" stroke="#1a1a1a" stroke-width="0.32" >41</text>
<text transform="translate(339.60,460.90) scale(1.12,1)" x="-0.44" y="0" font-size="8.6" font-weight="normal" font-style="normal" textLength="9.80" lengthAdjust="spacing" fill="#1a1a1a" stroke="#1a1a1a" stroke-width="0.32" >77</text>
<text transform="translate(388.80,445.30) scale(1.0,1)" x="-0.71" y="0" font-size="8.6" font-weight="normal" font-style="normal" textLength="12.91" lengthAdjust="spacing" fill="#1a1a1a" stroke="#1a1a1a" stroke-width="0.32" >RH</text>
<text transform="translate(415.10,445.30) scale(1.0,1)" x="-0.40" y="0" font-size="8.6" font-weight="normal" font-style="normal" textLength="32.30" lengthAdjust="spacing" fill="#1a1a1a" stroke="#1a1a1a" stroke-width="0.32" >95% CI</text>
<text x="469.65" y="445.30" font-size="8.6" font-weight="normal" font-style="italic" textLength="5.51" lengthAdjust="spacingAndGlyphs" fill="#1a1a1a" stroke="#1a1a1a" stroke-width="0.32" >P</text>
<text x="501.19" y="445.30" font-size="8.6" font-weight="normal" font-style="normal" textLength="5.50" lengthAdjust="spacingAndGlyphs" fill="#1a1a1a" stroke="#1a1a1a" stroke-width="0.32" >n</text>
<polyline points="377.90,450.80 383.70,450.80" fill="none" stroke="#4e2e82" stroke-width="1.5" stroke-linejoin="miter" stroke-linecap="butt"/>
<polyline points="377.90,458.30 383.70,458.30" fill="none" stroke="#d6845a" stroke-width="1.5" stroke-linejoin="miter" stroke-linecap="butt"/>
<text transform="translate(386.10,453.40) scale(1.0,1)" x="-0.66" y="0" font-size="8.6" font-weight="normal" font-style="normal" textLength="18.99" lengthAdjust="spacing" fill="#1a1a1a" stroke="#1a1a1a" stroke-width="0.32" >1.00</text>
<text transform="translate(386.10,460.90) scale(1.0,1)" x="-0.66" y="0" font-size="8.6" font-weight="normal" font-style="normal" textLength="19.03" lengthAdjust="spacing" fill="#1a1a1a" stroke="#1a1a1a" stroke-width="0.32" >1.86</text>
<text transform="translate(407.70,460.90) scale(1.0,1)" x="-0.66" y="0" font-size="8.6" font-weight="normal" font-style="normal" textLength="46.61" lengthAdjust="spacing" fill="#1a1a1a" stroke="#1a1a1a" stroke-width="0.32" >1.42 - 2.44</text>
<text transform="translate(457.30,460.90) scale(1.0,1)" x="-0.44" y="0" font-size="8.6" font-weight="normal" font-style="normal" textLength="28.18" lengthAdjust="spacing" fill="#1a1a1a" stroke="#1a1a1a" stroke-width="0.32" >7.5x10</text>
<text x="485.66" y="456.10" font-size="7.3" font-weight="normal" font-style="normal" textLength="8.88" lengthAdjust="spacingAndGlyphs" fill="#1a1a1a" stroke="#1a1a1a" stroke-width="0.3" >-6</text>
<text x="497.36" y="453.40" font-size="8.6" font-weight="normal" font-style="normal" textLength="15.01" lengthAdjust="spacingAndGlyphs" fill="#1a1a1a" stroke="#1a1a1a" stroke-width="0.32" >384</text>
<text x="497.00" y="460.90" font-size="8.6" font-weight="normal" font-style="normal" textLength="15.37" lengthAdjust="spacingAndGlyphs" fill="#1a1a1a" stroke="#1a1a1a" stroke-width="0.32" >114</text>
<polyline points="58.70,21.60 72.40,21.60 74.85,21.60 74.85,22.90 77.30,22.90 80.95,22.90 80.95,24.80 84.60,24.80 87.65,24.80 87.65,26.00 90.70,26.00 91.92,26.00 91.92,27.20 94.38,27.20 94.38,28.40 95.60,28.40 96.82,28.40 96.82,29.65 99.28,29.65 99.28,30.90 100.50,30.90 101.52,30.90 101.52,32.10 103.55,32.10 103.55,33.30 105.58,33.30 105.58,34.50 106.60,34.50 107.45,34.50 107.45,36.25 109.15,36.25 109.15,38.00 110.00,38.00 110.82,38.00 110.82,39.63 112.45,39.63 112.45,41.27 114.08,41.27 114.08,42.90 114.90,42.90 115.51,42.90 115.51,44.27 116.74,44.27 116.74,45.65 117.96,45.65 117.96,47.02 119.19,47.02 119.19,48.40 119.80,48.40 120.41,48.40 120.41,49.74 121.63,49.74 121.63,51.08 122.85,51.08 122.85,52.42 124.07,52.42 124.07,53.76 125.29,53.76 125.29,55.10 125.90,55.10 127.58,55.10 127.58,56.80 130.93,56.80 130.93,58.50 132.60,58.50 133.28,58.50 133.28,60.13 134.65,60.13 134.65,61.77 136.02,61.77 136.02,63.40 136.70,63.40 137.72,63.40 137.72,65.00 139.75,65.00 139.75,66.60 141.78,66.60 141.78,68.20 142.80,68.20 143.83,68.20 143.83,69.40 145.90,69.40 145.90,70.60 147.97,70.60 147.97,71.80 149.00,71.80 150.65,71.80 150.65,72.90 153.95,72.90 153.95,74.00 155.60,74.00 156.62,74.00 156.62,75.23 158.65,75.23 158.65,76.47 160.68,76.47 160.68,77.70 161.70,77.70 162.62,77.70 162.62,79.20 164.47,79.20 164.47,80.70 165.40,80.70 166.93,80.70 166.93,81.95 169.97,81.95 169.97,83.20 171.50,83.20 172.10,83.20 172.10,84.40 173.30,84.40 173.30,85.60 173.90,85.60 200.30,85.60" fill="none" stroke="#4e2e82" stroke-width="1.9" stroke-linejoin="miter" stroke-linecap="butt"/>
<polyline points="58.70,21.60 72.40,21.60 73.33,21.60 73.33,22.85 75.17,22.85 75.17,24.10 76.10,24.10 76.72,24.10 76.72,25.33 77.95,25.33 77.95,26.57 79.18,26.57 79.18,27.80 79.80,27.80 80.10,27.80 80.10,29.03 80.70,29.03 80.70,30.25 81.30,30.25 81.30,31.48 81.90,31.48 81.90,32.70 82.20,32.70 82.82,32.70 82.82,34.33 84.05,34.33 84.05,35.97 85.28,35.97 85.28,37.60 85.90,37.60 86.70,37.60 86.70,38.80 88.30,38.80 88.30,40.00 89.90,40.00 89.90,41.20 90.70,41.20 91.32,41.20 91.32,42.43 92.55,42.43 92.55,43.67 93.78,43.67 93.78,44.90 94.40,44.90 94.85,44.90 94.85,46.27 95.75,46.27 95.75,47.65 96.65,47.65 96.65,49.02 97.55,49.02 97.55,50.40 98.00,50.40 98.54,50.40 98.54,51.92 99.61,51.92 99.61,53.45 100.69,53.45 100.69,54.98 101.76,54.98 101.76,56.50 102.30,56.50 102.84,56.50 102.84,57.88 103.91,57.88 103.91,59.25 104.99,59.25 104.99,60.62 106.06,60.62 106.06,62.00 106.60,62.00 108.30,62.00 108.30,64.00 110.00,64.00 110.55,64.00 110.55,65.52 111.65,65.52 111.65,67.04 112.75,67.04 112.75,68.56 113.85,68.56 113.85,70.08 114.95,70.08 114.95,71.60 115.50,71.60 116.52,71.60 116.52,72.80 118.55,72.80 118.55,74.00 120.58,74.00 120.58,75.20 121.60,75.20 122.14,75.20 122.14,76.58 123.21,76.58 123.21,77.95 124.29,77.95 124.29,79.33 125.36,79.33 125.36,80.70 125.90,80.70 127.02,80.70 127.02,82.33 129.25,82.33 129.25,83.97 131.48,83.97 131.48,85.60 132.60,85.60 133.05,85.60 133.05,86.82 133.95,86.82 133.95,88.05 134.85,88.05 134.85,89.28 135.75,89.28 135.75,90.50 136.20,90.50 137.40,90.50 137.40,92.00 139.80,92.00 139.80,93.50 141.00,93.50 141.22,93.50 141.22,94.72 141.68,94.72 141.68,95.95 142.12,95.95 142.12,97.18 142.58,97.18 142.58,98.40 142.80,98.40 143.58,98.40 143.58,99.95 145.12,99.95 145.12,101.50 145.90,101.50 147.70,101.50 147.70,102.70 149.50,102.70 158.00,103.30 159.22,103.30 159.22,104.80 161.68,104.80 161.68,106.30 162.90,106.30 164.75,106.30 164.75,108.20 166.60,108.20 167.00,108.20 167.00,109.67 167.80,109.67 167.80,111.13 168.60,111.13 168.60,112.60 169.00,112.60 178.20,112.60" fill="none" stroke="#d6845a" stroke-width="1.9" stroke-linejoin="miter" stroke-linecap="butt"/>
<polyline points="216.50,21.20 232.30,21.20 232.61,21.20 232.61,22.70 233.24,22.70 233.24,24.20 233.86,24.20 233.86,25.70 234.49,25.70 234.49,27.20 234.80,27.20 237.20,27.40 237.55,27.40 237.55,28.67 238.25,28.67 238.25,29.95 238.95,29.95 238.95,31.23 239.65,31.23 239.65,32.50 240.00,32.50 242.25,32.50 242.25,33.70 244.50,33.70 244.75,33.70 244.75,35.03 245.25,35.03 245.25,36.35 245.75,36.35 245.75,37.67 246.25,37.67 246.25,39.00 246.50,39.00 251.00,39.40 251.27,39.40 251.27,40.77 251.80,40.77 251.80,42.13 252.33,42.13 252.33,43.50 252.60,43.50 254.25,43.50 254.25,44.70 255.90,44.70 257.50,44.70 257.50,46.10 259.10,46.10 259.50,46.10 259.50,48.10 259.90,48.10 260.05,48.10 260.05,49.62 260.35,49.62 260.35,51.15 260.65,51.15 260.65,52.68 260.95,52.68 260.95,54.20 261.10,54.20 261.70,54.20 261.70,55.00 262.30,55.00 263.12,55.00 263.12,56.50 264.75,56.50 264.75,58.00 266.38,58.00 266.38,59.50 267.20,59.50 267.80,59.50 267.80,61.50 268.40,61.50 270.25,61.50 270.25,62.40 272.10,62.40 272.90,62.40 272.90,63.80 274.50,63.80 274.50,65.20 275.30,65.20 276.15,65.20 276.15,66.80 277.00,66.80 277.40,72.10 278.40,72.10 278.40,73.70 279.40,73.70 280.20,73.70 280.20,75.80 281.00,75.80 281.00,80.70 289.20,80.70 289.20,84.10 295.00,84.10 295.00,88.10 297.90,88.10 297.90,93.30 311.70,93.30 311.70,100.00 323.30,100.00 323.30,113.90 335.90,113.90" fill="none" stroke="#4e2e82" stroke-width="1.9" stroke-linejoin="miter" stroke-linecap="butt"/>
<polyline points="216.50,21.20 232.30,21.20 232.44,21.20 232.44,22.53 232.73,22.53 232.73,23.87 233.01,23.87 233.01,25.20 233.29,25.20 233.29,26.53 233.57,26.53 233.57,27.87 233.86,27.87 233.86,29.20 234.00,29.20 234.20,29.20 234.20,30.52 234.60,30.52 234.60,31.85 235.00,31.85 235.00,33.17 235.40,33.17 235.40,34.50 235.60,34.50 235.88,34.50 235.88,35.96 236.44,35.96 236.44,37.42 237.00,37.42 237.00,38.88 237.56,38.88 237.56,40.34 238.12,40.34 238.12,41.80 238.40,41.80 238.71,41.80 238.71,43.20 239.33,43.20 239.33,44.60 239.95,44.60 239.95,46.00 240.57,46.00 240.57,47.40 241.19,47.40 241.19,48.80 241.50,48.80 242.00,48.80 242.00,50.50 243.00,50.50 243.00,52.20 243.50,52.20 243.61,52.20 243.61,53.52 243.82,53.52 243.82,54.83 244.04,54.83 244.04,56.15 244.26,56.15 244.26,57.47 244.48,57.47 244.48,58.78 244.69,58.78 244.69,60.10 244.80,60.10 246.00,60.10 246.00,62.00 247.20,62.00 248.70,62.00 248.70,63.20 250.20,63.20 250.72,63.20 250.72,64.80 251.75,64.80 251.75,66.40 252.78,66.40 252.78,68.00 253.30,68.00 253.60,68.00 253.60,69.53 254.20,69.53 254.20,71.05 254.80,71.05 254.80,72.57 255.40,72.57 255.40,74.10 255.70,74.10 255.86,74.10 255.86,75.32 256.19,75.32 256.19,76.55 256.51,76.55 256.51,77.78 256.84,77.78 256.84,79.00 257.00,79.00 257.15,79.00 257.15,80.53 257.45,80.53 257.45,82.05 257.75,82.05 257.75,83.57 258.05,83.57 258.05,85.10 258.20,85.10 259.10,85.10 259.10,86.35 260.90,86.35 260.90,87.60 261.80,87.60 263.02,87.60 263.02,89.10 265.48,89.10 265.48,90.60 266.70,90.60 267.42,90.60 267.42,92.03 268.85,92.03 268.85,93.47 270.28,93.47 270.28,94.90 271.00,94.90 271.50,94.90 271.50,96.30 272.50,96.30 272.50,97.70 273.50,97.70 273.50,99.10 274.00,99.10 274.18,99.10 274.18,100.30 274.52,100.30 274.52,101.50 274.70,101.50 280.00,101.80 282.30,101.80 282.30,103.10 284.60,103.10 285.62,103.10 285.62,104.25 287.68,104.25 287.68,105.40 288.70,105.40 288.70,108.90 297.90,108.90 297.90,111.20 301.30,111.20 301.30,115.30 307.10,115.30 307.10,117.30 328.40,117.30 328.40,122.40 336.50,122.40" fill="none" stroke="#d6845a" stroke-width="1.9" stroke-linejoin="miter" stroke-linecap="butt"/>
<polyline points="376.40,21.40 394.90,21.40 397.35,21.40 397.35,22.90 399.80,22.90 404.05,22.90 404.05,24.10 408.30,24.10 409.82,24.10 409.82,25.65 412.88,25.65 412.88,27.20 414.40,27.20 415.92,27.20 415.92,28.70 418.98,28.70 418.98,30.20 420.50,30.20 421.73,30.20 421.73,31.75 424.17,31.75 424.17,33.30 425.40,33.30 426.00,33.30 426.00,34.52 427.20,34.52 427.20,35.75 428.40,35.75 428.40,36.98 429.60,36.98 429.60,38.20 430.20,38.20 430.96,38.20 430.96,39.73 432.49,39.73 432.49,41.25 434.01,41.25 434.01,42.77 435.54,42.77 435.54,44.30 436.30,44.30 437.06,44.30 437.06,45.82 438.59,45.82 438.59,47.35 440.11,47.35 440.11,48.88 441.64,48.88 441.64,50.40 442.40,50.40 443.70,50.40 443.70,51.70 445.00,51.70 445.92,51.70 445.92,52.90 447.75,52.90 447.75,54.10 449.58,54.10 449.58,55.30 450.50,55.30 450.95,55.30 450.95,56.52 451.85,56.52 451.85,57.75 452.75,57.75 452.75,58.98 453.65,58.98 453.65,60.20 454.10,60.20 454.95,60.20 454.95,61.58 456.65,61.58 456.65,62.95 458.35,62.95 458.35,64.33 460.05,64.33 460.05,65.70 460.90,65.70 462.02,65.70 462.02,67.13 464.25,67.13 464.25,68.57 466.48,68.57 466.48,70.00 467.60,70.00 470.95,70.00 470.95,71.20 474.30,71.20 475.20,71.20 475.20,72.70 477.00,72.70 477.00,74.20 477.90,74.20 479.12,74.20 479.12,75.45 481.57,75.45 481.57,76.70 482.80,76.70 484.02,76.70 484.02,77.90 486.48,77.90 486.48,79.10 487.70,79.10 488.52,79.10 488.52,80.33 490.15,80.33 490.15,81.57 491.78,81.57 491.78,82.80 492.60,82.80 519.70,82.80" fill="none" stroke="#4e2e82" stroke-width="1.9" stroke-linejoin="miter" stroke-linecap="butt"/>
<polyline points="376.40,21.40 394.90,21.40 395.50,21.40 395.50,22.75 396.70,22.75 396.70,24.10 397.30,24.10 398.82,24.10 398.82,25.65 401.88,25.65 401.88,27.20 403.40,27.20 404.62,27.20 404.62,28.40 407.07,28.40 407.07,29.60 408.30,29.60 409.32,29.60 409.32,31.03 411.35,31.03 411.35,32.47 413.38,32.47 413.38,33.90 414.40,33.90 415.62,33.90 415.62,35.10 418.07,35.10 418.07,36.30 419.30,36.30 419.82,36.30 419.82,37.67 420.88,37.67 420.88,39.05 421.93,39.05 421.93,40.42 422.98,40.42 422.98,41.80 423.50,41.80 423.89,41.80 423.89,43.32 424.66,43.32 424.66,44.85 425.44,44.85 425.44,46.38 426.21,46.38 426.21,47.90 426.60,47.90 427.42,47.90 427.42,49.53 429.05,49.53 429.05,51.17 430.68,51.17 430.68,52.80 431.50,52.80 432.10,52.80 432.10,54.02 433.30,54.02 433.30,55.25 434.50,55.25 434.50,56.48 435.70,56.48 435.70,57.70 436.30,57.70 436.92,57.70 436.92,59.13 438.15,59.13 438.15,60.57 439.38,60.57 439.38,62.00 440.00,62.00 440.30,62.00 440.30,63.35 440.90,63.35 440.90,64.70 441.50,64.70 441.50,66.05 442.10,66.05 442.10,67.40 442.40,67.40 443.70,67.40 443.70,69.30 445.00,69.30 445.82,69.30 445.82,70.53 447.45,70.53 447.45,71.77 449.08,71.77 449.08,73.00 449.90,73.00 450.26,73.00 450.26,74.46 450.98,74.46 450.98,75.92 451.70,75.92 451.70,77.38 452.42,77.38 452.42,78.84 453.14,78.84 453.14,80.30 453.50,80.30 454.42,80.30 454.42,81.53 456.25,81.53 456.25,82.77 458.08,82.77 458.08,84.00 459.00,84.00 459.31,84.00 459.31,85.53 459.94,85.53 459.94,87.05 460.56,87.05 460.56,88.57 461.19,88.57 461.19,90.10 461.50,90.10 462.00,90.10 462.00,91.50 463.00,91.50 463.00,92.90 464.00,92.90 464.00,94.30 464.50,94.30 468.75,94.30 468.75,95.00 473.00,95.00 475.45,95.00 475.45,96.80 477.90,96.80 478.72,96.80 478.72,98.20 480.35,98.20 480.35,99.60 481.98,99.60 481.98,101.00 482.80,101.00 483.26,101.00 483.26,102.22 484.19,102.22 484.19,103.45 485.11,103.45 485.11,104.68 486.04,104.68 486.04,105.90 486.50,105.90 493.80,105.90" fill="none" stroke="#d6845a" stroke-width="1.9" stroke-linejoin="miter" stroke-linecap="butt"/>
<polyline points="58.70,179.90 74.80,179.90 80.90,180.50 83.95,180.50 83.95,182.40 87.00,182.40 88.83,182.40 88.83,183.90 92.47,183.90 92.47,185.40 94.30,185.40 95.52,185.40 95.52,186.63 97.95,186.63 97.95,187.87 100.38,187.87 100.38,189.10 101.60,189.10 102.51,189.10 102.51,190.32 104.34,190.32 104.34,191.55 106.16,191.55 106.16,192.78 107.99,192.78 107.99,194.00 108.90,194.00 109.92,194.00 109.92,195.40 111.95,195.40 111.95,196.80 113.98,196.80 113.98,198.20 115.00,198.20 115.82,198.20 115.82,199.63 117.45,199.63 117.45,201.07 119.08,201.07 119.08,202.50 119.90,202.50 120.73,202.50 120.73,203.87 122.40,203.87 122.40,205.23 124.07,205.23 124.07,206.60 124.90,206.60 128.55,206.60 128.55,207.80 132.20,207.80 132.60,207.80 132.60,209.03 133.40,209.03 133.40,210.27 134.20,210.27 134.20,211.50 134.60,211.50 135.44,211.50 135.44,213.03 137.11,213.03 137.11,214.55 138.79,214.55 138.79,216.07 140.46,216.07 140.46,217.60 141.30,217.60 143.75,217.60 143.75,218.80 146.20,218.80 152.90,219.40 153.50,226.70 155.05,226.70 155.05,227.30 156.60,227.30 156.60,233.40 175.50,233.40" fill="none" stroke="#4e2e82" stroke-width="1.9" stroke-linejoin="miter" stroke-linecap="butt"/>
<polyline points="58.70,179.90 74.80,179.90 75.70,179.90 75.70,181.80 76.60,181.80 77.05,181.80 77.05,183.00 77.95,183.00 77.95,184.20 78.40,184.20 80.25,184.20 80.25,184.80 82.10,184.80 82.40,184.80 82.40,186.35 83.00,186.35 83.00,187.90 83.30,187.90 83.80,187.90 83.80,189.30 84.80,189.30 84.80,190.70 85.80,190.70 85.80,192.10 86.30,192.10 88.75,192.10 88.75,193.30 91.20,193.30 93.95,193.30 93.95,195.20 96.70,195.20 99.15,195.20 99.15,197.00 101.60,197.00 102.82,197.00 102.82,198.20 105.28,198.20 105.28,199.40 106.50,199.40 106.95,199.40 106.95,200.78 107.85,200.78 107.85,202.15 108.75,202.15 108.75,203.53 109.65,203.53 109.65,204.90 110.10,204.90 110.49,204.90 110.49,206.43 111.26,206.43 111.26,207.95 112.04,207.95 112.04,209.47 112.81,209.47 112.81,211.00 113.20,211.00 113.44,211.00 113.44,212.34 113.92,212.34 113.92,213.68 114.40,213.68 114.40,215.02 114.88,215.02 114.88,216.36 115.36,216.36 115.36,217.70 115.60,217.70 121.20,218.20 121.80,224.30 122.11,224.30 122.11,225.83 122.74,225.83 122.74,227.35 123.36,227.35 123.36,228.88 123.99,228.88 123.99,230.40 124.30,230.40 130.40,230.40 130.58,230.40 130.58,231.74 130.94,231.74 130.94,233.08 131.30,233.08 131.30,234.42 131.66,234.42 131.66,235.76 132.02,235.76 132.02,237.10 132.20,237.10 133.40,237.10 133.40,238.90 134.60,238.90 134.60,243.20 145.60,243.20 145.60,251.10 168.80,251.10" fill="none" stroke="#d6845a" stroke-width="1.9" stroke-linejoin="miter" stroke-linecap="butt"/>
<polyline points="216.50,180.00 231.40,180.00 231.40,182.10 236.40,182.10 236.40,185.00 240.60,185.00 240.60,187.10 246.30,187.10 246.30,193.50 259.10,193.50 259.10,198.90 276.20,198.90 276.20,208.80 320.70,208.80" fill="none" stroke="#4e2e82" stroke-width="1.9" stroke-linejoin="miter" stroke-linecap="butt"/>
<polyline points="216.50,180.00 231.40,180.00 231.40,185.00 233.50,185.00 233.50,190.00 235.70,190.00 235.70,196.30 240.00,196.30 240.00,204.00 241.50,204.00 242.00,212.70 242.80,212.70 242.80,219.10 250.60,219.10 250.60,225.50 255.60,225.50 255.60,234.80 287.90,234.80 287.90,261.80 312.00,261.80" fill="none" stroke="#d6845a" stroke-width="1.9" stroke-linejoin="miter" stroke-linecap="butt"/>
<polyline points="376.40,180.00 398.50,180.00 400.95,180.00 400.95,181.10 403.40,181.10 406.45,181.10 406.45,182.40 409.50,182.40 411.95,182.40 411.95,184.20 414.40,184.20 415.62,184.20 415.62,185.70 418.07,185.70 418.07,187.20 419.30,187.20 420.82,187.20 420.82,188.75 423.88,188.75 423.88,190.30 425.40,190.30 426.20,190.30 426.20,191.53 427.80,191.53 427.80,192.77 429.40,192.77 429.40,194.00 430.20,194.00 431.22,194.00 431.22,195.40 433.25,195.40 433.25,196.80 435.28,196.80 435.28,198.20 436.30,198.20 437.12,198.20 437.12,199.43 438.75,199.43 438.75,200.67 440.38,200.67 440.38,201.90 441.20,201.90 441.62,201.90 441.62,203.37 442.45,203.37 442.45,204.83 443.28,204.83 443.28,206.30 443.70,206.30 447.35,206.30 447.35,207.80 451.00,207.80 451.30,207.80 451.30,209.35 451.90,209.35 451.90,210.90 452.20,210.90 452.99,210.90 452.99,212.24 454.57,212.24 454.57,213.58 456.15,213.58 456.15,214.92 457.73,214.92 457.73,216.26 459.31,216.26 459.31,217.60 460.10,217.60 465.00,218.20 465.30,218.20 465.30,220.00 465.60,220.00 471.70,220.00 471.75,220.00 471.75,221.32 471.85,221.32 471.85,222.63 471.95,222.63 471.95,223.95 472.05,223.95 472.05,225.27 472.15,225.27 472.15,226.58 472.25,226.58 472.25,227.90 472.30,227.90 476.00,227.90 476.00,235.20 494.90,235.20" fill="none" stroke="#4e2e82" stroke-width="1.9" stroke-linejoin="miter" stroke-linecap="butt"/>
<polyline points="376.40,180.00 398.50,180.00 399.12,180.00 399.12,181.20 400.38,181.20 400.38,182.40 401.00,182.40 401.60,182.40 401.60,183.60 402.80,183.60 402.80,184.80 403.40,184.80 409.50,185.40 414.40,186.00 416.85,186.00 416.85,187.90 419.30,187.90 421.10,187.90 421.10,189.70 422.90,189.70 424.15,189.70 424.15,191.50 425.40,191.50 425.70,191.50 425.70,192.72 426.30,192.72 426.30,193.95 426.90,193.95 426.90,195.18 427.50,195.18 427.50,196.40 427.80,196.40 428.11,196.40 428.11,197.72 428.73,197.72 428.73,199.03 429.34,199.03 429.34,200.35 429.96,200.35 429.96,201.67 430.57,201.67 430.57,202.98 431.19,202.98 431.19,204.30 431.50,204.30 431.70,204.30 431.70,205.65 432.10,205.65 432.10,207.00 432.50,207.00 432.50,208.35 432.90,208.35 432.90,209.70 433.30,209.70 433.30,211.05 433.70,211.05 433.70,212.40 433.90,212.40 440.50,212.40 440.56,212.40 440.56,213.80 440.68,213.80 440.68,215.20 440.79,215.20 440.79,216.60 440.91,216.60 440.91,218.00 441.02,218.00 441.02,219.40 441.14,219.40 441.14,220.80 441.20,220.80 441.34,220.80 441.34,222.12 441.62,222.12 441.62,223.44 441.90,223.44 441.90,224.76 442.18,224.76 442.18,226.08 442.46,226.08 442.46,227.40 442.60,227.40 450.40,227.40 450.40,232.20 453.40,232.20 453.40,238.90 465.00,238.90 465.00,248.70 487.60,248.70" fill="none" stroke="#d6845a" stroke-width="1.9" stroke-linejoin="miter" stroke-linecap="butt"/>
<polyline points="58.70,339.90 74.90,339.90 76.70,339.90 76.70,341.50 78.50,341.50 81.55,341.50 81.55,343.40 84.60,343.40 88.30,343.40 88.30,345.20 92.00,345.20 93.00,345.20 93.00,346.43 95.00,346.43 95.00,347.67 97.00,347.67 97.00,348.90 98.00,348.90 99.23,348.90 99.23,350.30 101.70,350.30 101.70,351.70 104.17,351.70 104.17,353.10 105.40,353.10 106.30,353.10 106.30,354.65 108.10,354.65 108.10,356.20 109.00,356.20 109.61,356.20 109.61,357.73 110.84,357.73 110.84,359.25 112.06,359.25 112.06,360.77 113.29,360.77 113.29,362.30 113.90,362.30 114.51,362.30 114.51,363.68 115.74,363.68 115.74,365.05 116.96,365.05 116.96,366.43 118.19,366.43 118.19,367.80 118.80,367.80 119.62,367.80 119.62,369.40 121.25,369.40 121.25,371.00 122.88,371.00 122.88,372.60 123.70,372.60 124.53,372.60 124.53,374.17 126.20,374.17 126.20,375.73 127.87,375.73 127.87,377.30 128.70,377.30 129.90,377.30 129.90,378.85 132.30,378.85 132.30,380.40 133.50,380.40 134.04,380.40 134.04,381.77 135.11,381.77 135.11,383.15 136.19,383.15 136.19,384.52 137.26,384.52 137.26,385.90 137.80,385.90 138.72,385.90 138.72,387.30 140.55,387.30 140.55,388.70 142.38,388.70 142.38,390.10 143.30,390.10 144.32,390.10 144.32,391.33 146.35,391.33 146.35,392.57 148.38,392.57 148.38,393.80 149.40,393.80 153.05,393.80 153.05,395.60 156.70,395.60 159.15,395.60 159.15,397.40 161.60,397.40 162.50,397.40 162.50,398.95 164.30,398.95 164.30,400.50 165.20,400.50 167.65,400.50 167.65,402.30 170.10,402.30 171.18,402.30 171.18,403.55 173.32,403.55 173.32,404.80 174.40,404.80 199.60,404.80" fill="none" stroke="#4e2e82" stroke-width="1.9" stroke-linejoin="miter" stroke-linecap="butt"/>
<polyline points="58.70,339.90 74.90,339.90 75.50,339.90 75.50,341.65 76.70,341.65 76.70,343.40 77.30,343.40 77.76,343.40 77.76,344.77 78.69,344.77 78.69,346.15 79.61,346.15 79.61,347.52 80.54,347.52 80.54,348.90 81.00,348.90 81.38,348.90 81.38,350.25 82.12,350.25 82.12,351.60 82.88,351.60 82.88,352.95 83.62,352.95 83.62,354.30 84.00,354.30 84.62,354.30 84.62,355.93 85.85,355.93 85.85,357.57 87.08,357.57 87.08,359.20 87.70,359.20 88.42,359.20 88.42,360.43 89.85,360.43 89.85,361.67 91.28,361.67 91.28,362.90 92.00,362.90 92.60,362.90 92.60,364.10 93.80,364.10 93.80,365.30 95.00,365.30 95.00,366.50 95.60,366.50 96.06,366.50 96.06,368.02 96.99,368.02 96.99,369.55 97.91,369.55 97.91,371.08 98.84,371.08 98.84,372.60 99.30,372.60 99.75,372.60 99.75,373.98 100.65,373.98 100.65,375.35 101.55,375.35 101.55,376.73 102.45,376.73 102.45,378.10 102.90,378.10 103.52,378.10 103.52,379.73 104.75,379.73 104.75,381.37 105.98,381.37 105.98,383.00 106.60,383.00 107.21,383.00 107.21,384.38 108.44,384.38 108.44,385.75 109.66,385.75 109.66,387.12 110.89,387.12 110.89,388.50 111.50,388.50 112.30,388.50 112.30,389.93 113.90,389.93 113.90,391.37 115.50,391.37 115.50,392.80 116.30,392.80 117.00,392.80 117.00,394.03 118.40,394.03 118.40,395.27 119.80,395.27 119.80,396.50 120.50,396.50 121.62,396.50 121.62,398.20 123.88,398.20 123.88,399.90 125.00,399.90 125.82,399.90 125.82,401.30 127.45,401.30 127.45,402.70 129.08,402.70 129.08,404.10 129.90,404.10 130.92,404.10 130.92,405.73 132.95,405.73 132.95,407.37 134.98,407.37 134.98,409.00 136.00,409.00 136.92,409.00 136.92,410.43 138.75,410.43 138.75,411.87 140.58,411.87 140.58,413.30 141.50,413.30 141.90,413.30 141.90,414.93 142.70,414.93 142.70,416.57 143.50,416.57 143.50,418.20 143.90,418.20 146.65,418.20 146.65,420.00 149.40,420.00 153.05,420.00 153.05,421.20 156.70,421.20 159.15,421.20 159.15,423.00 161.60,423.00 162.82,423.00 162.82,424.55 165.28,424.55 165.28,426.10 166.50,426.10 167.10,426.10 167.10,427.33 168.30,427.33 168.30,428.57 169.50,428.57 169.50,429.80 170.10,429.80 177.60,430.20" fill="none" stroke="#d6845a" stroke-width="1.9" stroke-linejoin="miter" stroke-linecap="butt"/>
<polyline points="216.50,340.20 231.10,340.20 231.28,340.20 231.28,341.48 231.64,341.48 231.64,342.76 232.00,342.76 232.00,344.04 232.36,344.04 232.36,345.32 232.72,345.32 232.72,346.60 232.90,346.60 233.22,346.60 233.22,347.80 233.85,347.80 233.85,349.00 234.48,349.00 234.48,350.20 234.80,350.20 239.00,350.20 239.60,357.00 243.90,357.00 244.20,357.00 244.20,358.60 244.80,358.60 244.80,360.20 245.40,360.20 245.40,361.80 245.70,361.80 250.60,362.40 250.72,362.40 250.72,363.74 250.96,363.74 250.96,365.08 251.20,365.08 251.20,366.42 251.44,366.42 251.44,367.76 251.68,367.76 251.68,369.10 251.80,369.10 252.73,369.10 252.73,370.35 254.57,370.35 254.57,371.60 255.50,371.60 256.25,371.60 256.25,372.80 257.75,372.80 257.75,374.00 258.50,374.00 258.74,374.00 258.74,375.52 259.21,375.52 259.21,377.05 259.69,377.05 259.69,378.58 260.16,378.58 260.16,380.10 260.40,380.10 260.80,380.10 260.80,381.33 261.60,381.33 261.60,382.57 262.40,382.57 262.40,383.80 262.80,383.80 263.42,383.80 263.42,385.43 264.65,385.43 264.65,387.07 265.88,387.07 265.88,388.70 266.50,388.70 267.43,388.70 267.43,390.10 269.30,390.10 269.30,391.50 271.17,391.50 271.17,392.90 272.10,392.90 272.70,392.90 272.70,394.13 273.90,394.13 273.90,395.37 275.10,395.37 275.10,396.60 275.70,396.60 276.02,396.60 276.02,397.80 276.65,397.80 276.65,399.00 277.28,399.00 277.28,400.20 277.60,400.20 277.83,400.20 277.83,401.43 278.27,401.43 278.27,402.65 278.73,402.65 278.73,403.88 279.17,403.88 279.17,405.10 279.40,405.10 279.55,405.10 279.55,406.48 279.85,406.48 279.85,407.85 280.15,407.85 280.15,409.23 280.45,409.23 280.45,410.60 280.60,410.60 287.90,411.20 288.52,411.20 288.52,412.45 289.77,412.45 289.77,413.70 290.40,413.70 292.50,413.70 292.50,414.30 294.60,414.30 295.08,414.30 295.08,415.80 296.02,415.80 296.02,417.30 296.50,417.30 296.80,417.30 296.80,418.53 297.40,418.53 297.40,419.77 298.00,419.77 298.00,421.00 298.30,421.00 311.20,421.00 311.20,428.10 323.10,428.10 323.10,434.60 335.80,434.60" fill="none" stroke="#4e2e82" stroke-width="1.9" stroke-linejoin="miter" stroke-linecap="butt"/>
<polyline points="216.50,340.20 231.10,340.20 231.30,340.20 231.30,341.73 231.70,341.73 231.70,343.27 232.10,343.27 232.10,344.80 232.30,344.80 232.60,344.80 232.60,346.20 233.20,346.20 233.20,347.60 233.80,347.60 233.80,349.00 234.10,349.00 234.62,349.00 234.62,350.63 235.65,350.63 235.65,352.27 236.68,352.27 236.68,353.90 237.20,353.90 237.35,353.90 237.35,355.27 237.65,355.27 237.65,356.65 237.95,356.65 237.95,358.02 238.25,358.02 238.25,359.40 238.40,359.40 238.62,359.40 238.62,360.77 239.07,360.77 239.07,362.15 239.53,362.15 239.53,363.52 239.97,363.52 239.97,364.90 240.20,364.90 240.62,364.90 240.62,366.30 241.45,366.30 241.45,367.70 242.28,367.70 242.28,369.10 242.70,369.10 242.92,369.10 242.92,370.62 243.38,370.62 243.38,372.15 243.82,372.15 243.82,373.68 244.28,373.68 244.28,375.20 244.50,375.20 244.95,375.20 244.95,376.45 245.85,376.45 245.85,377.70 246.30,377.70 247.23,377.70 247.23,379.20 249.07,379.20 249.07,380.70 250.00,380.70 250.40,380.70 250.40,381.93 251.20,381.93 251.20,383.17 252.00,383.17 252.00,384.40 252.40,384.40 252.72,384.40 252.72,385.83 253.35,385.83 253.35,387.27 253.98,387.27 253.98,388.70 254.30,388.70 254.60,388.70 254.60,390.30 255.20,390.30 255.20,391.90 255.80,391.90 255.80,393.50 256.10,393.50 256.21,393.50 256.21,394.93 256.43,394.93 256.43,396.37 256.64,396.37 256.64,397.80 256.86,397.80 256.86,399.23 257.07,399.23 257.07,400.67 257.29,400.67 257.29,402.10 257.40,402.10 257.88,402.10 257.88,403.30 258.82,403.30 258.82,404.50 259.30,404.50 260.35,404.50 260.35,405.75 262.45,405.75 262.45,407.00 263.50,407.00 264.32,407.00 264.32,408.40 265.95,408.40 265.95,409.80 267.58,409.80 267.58,411.20 268.40,411.20 268.92,411.20 268.92,412.63 269.95,412.63 269.95,414.07 270.98,414.07 270.98,415.50 271.50,415.50 271.90,415.50 271.90,417.13 272.70,417.13 272.70,418.77 273.50,418.77 273.50,420.40 273.90,420.40 276.65,420.40 276.65,421.00 279.40,421.00 281.85,421.00 281.85,422.20 284.30,422.20 285.20,422.20 285.20,423.70 287.00,423.70 287.00,425.20 287.90,425.20 289.75,425.20 289.75,425.90 291.60,425.90 294.65,425.90 294.65,426.50 297.70,426.50 298.20,426.50 298.20,427.90 299.20,427.90 299.20,429.30 300.20,429.30 300.20,430.70 300.70,430.70 302.15,430.70 302.15,432.10 305.05,432.10 305.05,433.50 306.50,433.50 327.30,433.50 327.30,437.70 336.50,437.70" fill="none" stroke="#d6845a" stroke-width="1.9" stroke-linejoin="miter" stroke-linecap="butt"/>
<polyline points="376.40,340.40 392.90,340.40 395.95,340.40 395.95,341.50 399.00,341.50 403.25,341.50 403.25,343.40 407.50,343.40 409.02,343.40 409.02,344.60 412.08,344.60 412.08,345.80 413.60,345.80 415.12,345.80 415.12,347.35 418.18,347.35 418.18,348.90 419.70,348.90 421.23,348.90 421.23,350.40 424.27,350.40 424.27,351.90 425.80,351.90 426.42,351.90 426.42,353.13 427.65,353.13 427.65,354.37 428.88,354.37 428.88,355.60 429.50,355.60 430.10,355.60 430.10,357.00 431.30,357.00 431.30,358.40 432.50,358.40 432.50,359.80 433.10,359.80 433.71,359.80 433.71,361.18 434.94,361.18 434.94,362.55 436.16,362.55 436.16,363.93 437.39,363.93 437.39,365.30 438.00,365.30 438.82,365.30 438.82,366.73 440.45,366.73 440.45,368.17 442.08,368.17 442.08,369.60 442.90,369.60 443.40,369.60 443.40,370.95 444.40,370.95 444.40,372.30 444.90,372.30 445.92,372.30 445.92,373.53 447.95,373.53 447.95,374.77 449.98,374.77 449.98,376.00 451.00,376.00 451.50,376.00 451.50,377.63 452.50,377.63 452.50,379.27 453.50,379.27 453.50,380.90 454.00,380.90 456.15,380.90 456.15,382.70 458.30,382.70 459.06,382.70 459.06,383.93 460.59,383.93 460.59,385.15 462.11,385.15 462.11,386.38 463.64,386.38 463.64,387.60 464.40,387.60 465.62,387.60 465.62,388.80 468.07,388.80 468.07,390.00 469.30,390.00 472.35,390.00 472.35,391.20 475.40,391.20 476.42,391.20 476.42,392.43 478.45,392.43 478.45,393.67 480.48,393.67 480.48,394.90 481.50,394.90 482.70,394.90 482.70,396.10 485.10,396.10 485.10,397.30 486.30,397.30 487.52,397.30 487.52,398.85 489.98,398.85 489.98,400.40 491.20,400.40 519.60,400.40" fill="none" stroke="#4e2e82" stroke-width="1.9" stroke-linejoin="miter" stroke-linecap="butt"/>
<polyline points="376.40,340.40 392.90,340.40 393.80,340.40 393.80,341.60 395.60,341.60 395.60,342.80 396.50,342.80 397.73,342.80 397.73,344.30 400.17,344.30 400.17,345.80 401.40,345.80 402.92,345.80 402.92,347.00 405.98,347.00 405.98,348.20 407.50,348.20 408.43,348.20 408.43,349.75 410.27,349.75 410.27,351.30 411.20,351.30 412.10,351.30 412.10,352.80 413.90,352.80 413.90,354.30 414.80,354.30 415.62,354.30 415.62,355.53 417.25,355.53 417.25,356.77 418.88,356.77 418.88,358.00 419.70,358.00 420.16,358.00 420.16,359.38 421.09,359.38 421.09,360.75 422.01,360.75 422.01,362.12 422.94,362.12 422.94,363.50 423.40,363.50 423.70,363.50 423.70,365.02 424.30,365.02 424.30,366.55 424.90,366.55 424.90,368.08 425.50,368.08 425.50,369.60 425.80,369.60 426.40,369.60 426.40,371.10 427.60,371.10 427.60,372.60 428.20,372.60 429.27,372.60 429.27,373.85 431.43,373.85 431.43,375.10 432.50,375.10 433.22,375.10 433.22,376.50 434.65,376.50 434.65,377.90 436.08,377.90 436.08,379.30 436.80,379.30 437.60,379.30 437.60,380.40 439.20,380.40 439.20,381.50 440.00,381.50 440.49,381.50 440.49,382.84 441.47,382.84 441.47,384.18 442.45,384.18 442.45,385.52 443.43,385.52 443.43,386.86 444.41,386.86 444.41,388.20 444.90,388.20 446.12,388.20 446.12,389.60 448.55,389.60 448.55,391.00 450.98,391.00 450.98,392.40 452.20,392.40 452.50,392.40 452.50,393.77 453.10,393.77 453.10,395.15 453.70,395.15 453.70,396.52 454.30,396.52 454.30,397.90 454.60,397.90 455.32,397.90 455.32,399.13 456.75,399.13 456.75,400.37 458.18,400.37 458.18,401.60 458.90,401.60 459.26,401.60 459.26,402.92 459.97,402.92 459.97,404.23 460.69,404.23 460.69,405.55 461.41,405.55 461.41,406.87 462.12,406.87 462.12,408.18 462.84,408.18 462.84,409.50 463.20,409.50 464.40,409.50 464.40,411.30 465.60,411.30 472.90,411.30 474.42,411.30 474.42,412.55 477.48,412.55 477.48,413.80 479.00,413.80 479.62,413.80 479.62,415.20 480.85,415.20 480.85,416.60 482.08,416.60 482.08,418.00 482.70,418.00 483.30,418.00 483.30,419.63 484.50,419.63 484.50,421.27 485.70,421.27 485.70,422.90 486.30,422.90 488.75,422.90 488.75,424.40 491.20,424.40 493.50,424.40" fill="none" stroke="#d6845a" stroke-width="1.9" stroke-linejoin="miter" stroke-linecap="butt"/>
</svg></body></html>
